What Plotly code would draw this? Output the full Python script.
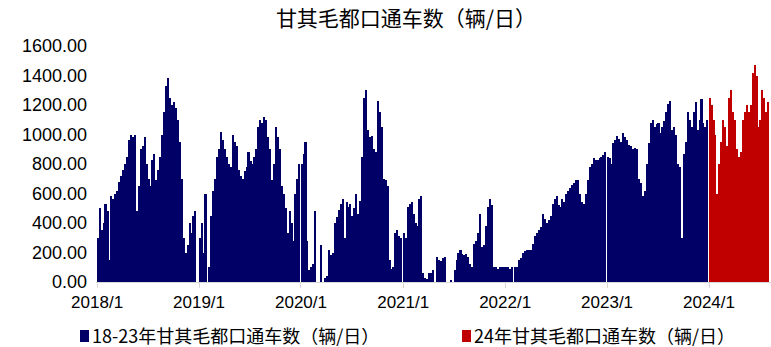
import plotly.graph_objects as go
import pandas as pd

# Weekly values (vehicles/day)
v2018 = [300, 500, 350, 400, 530, 480, 150, 580, 560, 600, 620, 680, 720, 760, 800, 850,
         960, 1000, 980, 1000, 480, 650, 900, 920, 980, 800, 700, 650, 830, 870, 690, 760,
         850, 1000, 1150, 1330, 1380, 1250, 1200, 1220, 1180, 1100, 950, 700, 300, 200,
         250, 400, 330, 450, 480, 0]
v2019 = [300, 400, 200, 600, 0, 100, 450, 620, 700, 850, 900, 1020, 960, 900, 850, 800,
         780, 1000, 950, 920, 760, 720, 700, 750, 780, 880, 820, 800, 850, 900, 1050, 1100,
         1080, 1120, 1100, 980, 900, 690, 800, 1050, 980, 900, 650, 600, 500, 330, 480,
         400, 280, 600, 700, 800]
v2020 = [800, 870, 950, 280, 80, 100, 120, 480, 0, 0, 250, 0, 30, 40, 220, 180,
         200, 400, 440, 490, 530, 560, 300, 540, 510, 530, 450, 500, 600, 460, 550, 850,
         1250, 1300, 1030, 980, 990, 900, 880, 1230, 1150, 1050, 700, 690, 650, 150, 90,
         100, 330, 350, 310, 300]
v2021 = [330, 300, 510, 530, 540, 460, 400, 380, 560, 580, 60, 25, 20, 60, 60, 80,
         0, 170, 150, 140, 160, 170, 0, 0, 10, 0, 80, 150, 200, 215, 190, 180,
         190, 170, 120, 100, 260, 280, 330, 460, 240, 250, 380, 510, 560, 520, 100,
         100, 90, 100, 100, 100]
v2022 = [100, 100, 90, 100, 0, 100, 100, 150, 160, 200, 210, 215, 220, 215, 260, 310,
         330, 350, 370, 460, 430, 400, 420, 450, 530, 560, 580, 520, 510, 560, 540, 600,
         620, 640, 660, 670, 690, 690, 600, 540, 530, 600, 690, 780, 800, 840, 830,
         830, 840, 850, 860, 880]
v2023 = [850, 840, 800, 940, 960, 990, 970, 950, 1010, 980, 960, 930, 920, 900, 910, 900,
         700, 670, 580, 620, 800, 940, 1080, 1100, 1050, 1070, 1080, 1010, 1050, 1090, 1150,
         1210, 1230, 1030, 1050, 1000, 800, 780, 300, 870, 950, 1150, 1100, 1050, 1150,
         1220, 1030, 1100, 1240, 1080, 1050, 1100]
v2024 = [1250, 1200, 1100, 1000, 600, 800, 950, 1100, 1050, 920, 1250, 1300, 1150, 1100,
         900, 850, 880, 1100, 1150, 1200, 1150, 1200, 1420, 1470, 1400, 1050, 1100, 1300,
         1250, 1150, 1220]

hist_years = [2018, 2019, 2020, 2021, 2022, 2023]
hist_vals = [v2018, v2019, v2020, v2021, v2022, v2023]

year_ticks = ["2018-01-01", "2019-01-01", "2020-01-01", "2021-01-01",
              "2022-01-01", "2023-01-01", "2024-01-01"]
year_labels = ["2018/1", "2019/1", "2020/1", "2021/1", "2022/1", "2023/1", "2024/1"]
y_ticks = [0, 200, 400, 600, 800, 1000, 1200, 1400, 1600]

name_hist = "18-23年甘其毛都口通车数（辆/日）"
name_2024 = "24年甘其毛都口通车数（辆/日）"
title = "甘其毛都口通车数（辆/日）"


def week_dates(year, n):
    start = pd.Timestamp(f"{year}-01-04")
    return [start + pd.Timedelta(days=7 * i) for i in range(n)]


hx, hy = [], []
for yr, vals in zip(hist_years, hist_vals):
    hx += week_dates(yr, len(vals))
    hy += vals
rx = week_dates(2024, len(v2024))

BLUE = "#000066"
RED = "#C00000"
bar_w = 5.6 * 24 * 3600 * 1000

fig = go.Figure()
fig.add_trace(go.Bar(x=hx, y=hy, marker_color=BLUE, marker_line_width=0,
                     width=bar_w, name=name_hist, showlegend=False))
fig.add_trace(go.Bar(x=rx, y=v2024, marker_color=RED, marker_line_width=0,
                     width=bar_w, name=name_2024, showlegend=False))

W, H = 771, 347
L, R, T, B = 96, 0, 46, 65
pw, ph = W - L - R, H - T - B


def px(x):
    return (x - L) / pw


def py(y):
    return (H - B - y) / ph


shapes = [
    dict(type="rect", xref="paper", yref="paper", x0=px(80), x1=px(89), y0=py(342), y1=py(330),
         fillcolor=BLUE, line_width=0),
    dict(type="rect", xref="paper", yref="paper", x0=px(462), x1=px(471), y0=py(342), y1=py(330),
         fillcolor=RED, line_width=0),
]
cjk = "Noto Sans CJK SC"
annotations = [
    dict(text=name_hist, xref="paper", yref="paper", x=px(90), y=py(335), xanchor="left",
         yanchor="middle", showarrow=False, font=dict(family=cjk, size=18, color="#000000")),
    dict(text=name_2024, xref="paper", yref="paper", x=px(472), y=py(335), xanchor="left",
         yanchor="middle", showarrow=False, font=dict(family=cjk, size=18, color="#000000")),
]

fig.update_layout(
    width=W, height=H,
    margin=dict(l=L, r=R, t=T, b=B),
    paper_bgcolor="white", plot_bgcolor="white",
    title=dict(text=title, x=406 / W, xref="container", xanchor="center",
               y=1 - 19 / H, yref="container", yanchor="middle",
               font=dict(family=cjk, size=21, color="#000000")),
    bargap=0, barmode="overlay",
    shapes=shapes, annotations=annotations,
    showlegend=False,
    font=dict(family="Liberation Sans", size=17, color="#000000"),
)
fig.update_xaxes(type="date", range=["2017-12-28", "2024-08-10"],
                 tickvals=year_ticks, ticktext=year_labels,
                 showline=True, linecolor="#d9d9d9", linewidth=1,
                 ticks="outside", tickcolor="#d9d9d9", ticklen=5,
                 showgrid=False, zeroline=False,
                 tickfont=dict(family="Liberation Sans", size=17))
fig.update_yaxes(range=[0, 1600], tickvals=y_ticks, tickformat=".2f",
                 showgrid=False, zeroline=False, showline=False, ticks="",
                 ticklabelstandoff=8,
                 tickfont=dict(family="Liberation Sans", size=18))

fig.write_html("out.html")
